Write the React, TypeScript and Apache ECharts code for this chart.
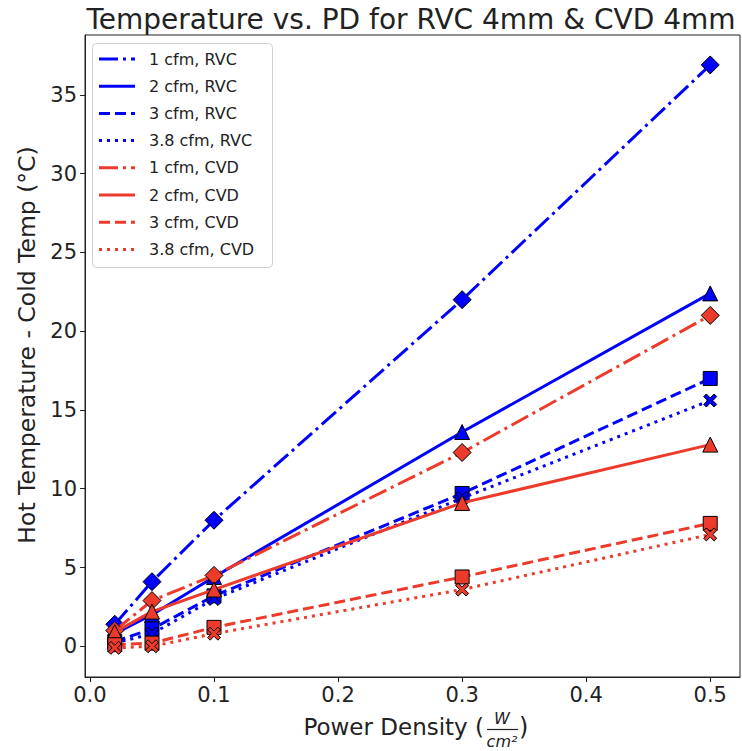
import React, { useEffect, useRef } from 'react';
import * as echarts from 'echarts';

const powerDensity = [0.02, 0.05, 0.1, 0.3, 0.5];
const rvc1 = [1.4, 4.1, 8.0, 22.0, 36.9];
const rvc2 = [0.8, 2.0, 4.4, 13.6, 22.4];
const rvc3 = [0.3, 1.1, 3.2, 9.7, 17.0];
const rvc38 = [0.2, 0.8, 3.0, 9.4, 15.6];
const cvd1 = [1.0, 2.9, 4.5, 12.3, 21.0];
const cvd2 = [0.9, 2.2, 3.6, 9.1, 12.8];
const cvd3 = [0.1, 0.2, 1.2, 4.4, 7.8];
const cvd38 = [-0.1, 0.0, 0.8, 3.6, 7.1];

const seriesNames = [
  '1 cfm, RVC', '2 cfm, RVC', '3 cfm, RVC', '3.8 cfm, RVC',
  '1 cfm, CVD', '2 cfm, CVD', '3 cfm, CVD', '3.8 cfm, CVD',
];
const seriesValues = [rvc1, rvc2, rvc3, rvc38, cvd1, cvd2, cvd3, cvd38];
const xTicks = [0, 0.1, 0.2, 0.3, 0.4, 0.5];
const yTicks = [0, 5, 10, 15, 20, 25, 30, 35];

const BLUE = '#0000ff';
const RED = '#ec3a2b';
const LW = 3;
const DASHDOT = [19, 5, 3, 5];
const DASHED = [11, 5];
const DOTTED = [3, 5];
const SOLID: number[] | null = null;

const X_PATH = 'path://M2,0 L5,3 L8,0 L10,2 L7,5 L10,8 L8,10 L5,7 L2,10 L0,8 L3,5 L0,2 Z';

const styles = [
  { color: BLUE, dash: DASHDOT, symbol: 'diamond', size: 18 },
  { color: BLUE, dash: SOLID, symbol: 'triangle', size: 15 },
  { color: BLUE, dash: DASHED, symbol: 'rect', size: 14 },
  { color: BLUE, dash: DOTTED, symbol: X_PATH, size: 13 },
  { color: RED, dash: DASHDOT, symbol: 'diamond', size: 18 },
  { color: RED, dash: SOLID, symbol: 'triangle', size: 15 },
  { color: RED, dash: DASHED, symbol: 'rect', size: 14 },
  { color: RED, dash: DOTTED, symbol: X_PATH, size: 13 },
];

const FONT = 'DejaVu Sans';

const GRID_LEFT = 85;
const GRID_TOP = 35;
const GRID_RIGHT = 740;
const GRID_BOTTOM = 677;

export default function App() {
  const ref = useRef<HTMLDivElement>(null);
  useEffect(() => {
    if (!ref.current) return;
    const chart = echarts.init(ref.current, null, { renderer: 'svg' });

    const series = seriesNames.map((name, i) => ({
      name,
      type: 'line',
      data: powerDensity.map((x, j) => [x, seriesValues[i][j]]),
      symbol: styles[i].symbol,
      symbolSize: styles[i].size,
      showSymbol: true,
      lineStyle: {
        color: styles[i].color,
        width: LW,
        type: styles[i].dash ? styles[i].dash : 'solid',
        cap: 'butt',
      },
      itemStyle: {
        color: styles[i].color,
        borderColor: '#000',
        borderWidth: 1,
      },
      emphasis: { disabled: true },
      z: 2 + i,
    }));

    const legendX0 = 99;
    const legendX1 = 135;
    const legendTextX = 149;
    const legendY0 = 59;
    const legendStep = 27.2;
    const legendGraphics: any[] = [
      {
        type: 'rect',
        shape: { x: 92.5, y: 43.5, width: 180, height: 224, r: 4 },
        style: { fill: 'rgba(255,255,255,0.85)', stroke: '#d0d0d0', lineWidth: 1 },
        z: 100,
      },
    ];
    seriesNames.forEach((name, i) => {
      const y = legendY0 + i * legendStep;
      legendGraphics.push({
        type: 'line',
        shape: { x1: legendX0, y1: y, x2: legendX1, y2: y },
        style: {
          stroke: styles[i].color,
          lineWidth: LW,
          lineDash: styles[i].dash ? styles[i].dash : null,
          lineCap: 'butt',
        },
        z: 101,
      });
      legendGraphics.push({
        type: 'text',
        x: legendTextX,
        y,
        style: {
          text: name,
          font: `16px "${FONT}"`,
          fill: '#222',
          textAlign: 'left',
          textVerticalAlign: 'middle',
        },
        z: 101,
      });
    });

    const xNameY = 727;
    const axisNameGraphics: any[] = [
      {
        type: 'text',
        x: 484,
        y: xNameY,
        style: {
          text: 'Power Density (',
          font: `23px "${FONT}"`,
          fill: '#222',
          textAlign: 'right',
          textVerticalAlign: 'middle',
        },
      },
      {
        type: 'text',
        x: 502,
        y: 718,
        style: {
          text: 'W',
          font: `italic 16px "${FONT}"`,
          fill: '#222',
          textAlign: 'center',
          textVerticalAlign: 'middle',
        },
      },
      {
        type: 'line',
        shape: { x1: 487, y1: 729.5, x2: 518, y2: 729.5 },
        style: { stroke: '#222', lineWidth: 1.2 },
      },
      {
        type: 'text',
        x: 502,
        y: 741,
        style: {
          text: 'cm²',
          font: `italic 16px "${FONT}"`,
          fill: '#222',
          textAlign: 'center',
          textVerticalAlign: 'middle',
        },
      },
      {
        type: 'text',
        x: 519,
        y: xNameY,
        style: {
          text: ')',
          font: `24px "${FONT}"`,
          fill: '#222',
          textAlign: 'left',
          textVerticalAlign: 'middle',
        },
      },
      {
        type: 'text',
        x: 27,
        y: 345,
        rotation: Math.PI / 2,
        style: {
          text: 'Hot Temperature - Cold Temp (°C)',
          font: `23.5px "${FONT}"`,
          fill: '#222',
          textAlign: 'center',
          textVerticalAlign: 'middle',
        },
      },
    ];

    const option: any = {
      animation: false,
      backgroundColor: '#fff',
      title: {
        text: 'Temperature vs. PD for RVC 4mm & CVD 4mm',
        left: 406,
        top: 0,
        textAlign: 'center',
        textStyle: {
          fontFamily: FONT,
          fontSize: 28,
          fontWeight: 'normal',
          color: '#222',
        },
      },
      grid: {
        left: GRID_LEFT,
        top: GRID_TOP,
        width: GRID_RIGHT - GRID_LEFT,
        height: GRID_BOTTOM - GRID_TOP,
        show: true,
        borderColor: '#222',
        borderWidth: 1,
        backgroundColor: 'transparent',
      },
      xAxis: {
        type: 'value',
        min: -0.004,
        max: 0.524,
        axisLine: { show: true, onZero: false, lineStyle: { color: '#222', width: 1 } },
        axisTick: {
          show: true,
          length: 5,
          inside: false,
          customValues: xTicks,
          lineStyle: { color: '#222' },
        },
        axisLabel: {
          customValues: xTicks,
          formatter: (v: number) => v.toFixed(1),
          fontFamily: FONT,
          fontSize: 21,
          color: '#222',
          margin: 7,
        },
        splitLine: { show: false },
      },
      yAxis: {
        type: 'value',
        min: -1.95,
        max: 38.8,
        axisLine: { show: true, onZero: false, lineStyle: { color: '#222', width: 1 } },
        axisTick: {
          show: true,
          length: 5,
          inside: false,
          customValues: yTicks,
          lineStyle: { color: '#222' },
        },
        axisLabel: {
          customValues: yTicks,
          formatter: (v: number) => String(v),
          fontFamily: FONT,
          fontSize: 21,
          color: '#222',
          margin: 8,
        },
        splitLine: { show: false },
      },
      series,
      graphic: [...legendGraphics, ...axisNameGraphics],
    };
    chart.setOption(option);
    return () => chart.dispose();
  }, []);

  return (
    <div
      ref={ref}
      style={{ position: 'absolute', left: 0, top: 0, width: 742, height: 751, background: '#fff' }}
    />
  );
}
